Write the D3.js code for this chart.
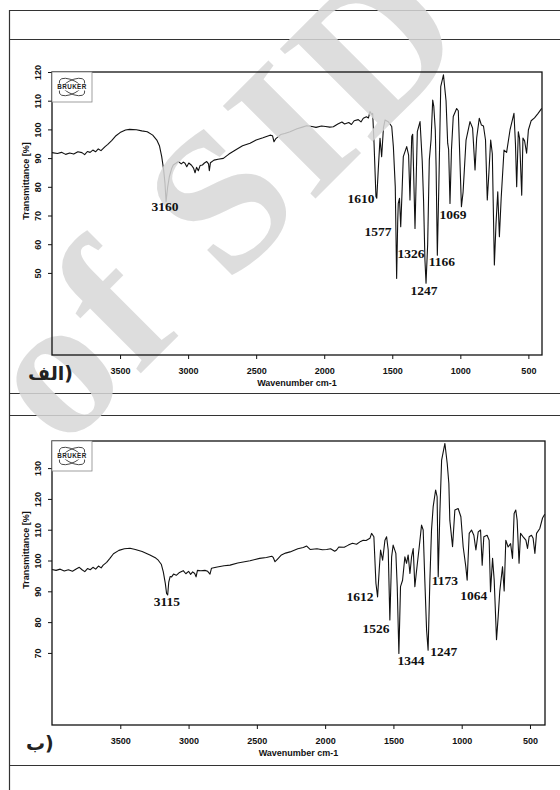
<!DOCTYPE html>
<html>
<head>
<meta charset="utf-8">
<script src="https://cdn.jsdelivr.net/npm/d3@7"></script>
<style>
  body { margin: 0; background: #fff; }
  .tick text { font-family: "Liberation Sans", Arial, sans-serif; font-weight: bold; font-size: 9px; fill: #111; }
  .tick line { stroke: #111; }
  .axis-title { font-family: "Liberation Sans", Arial, sans-serif; font-weight: bold; font-size: 9px; fill: #111; }
  .peak { font-family: "Liberation Serif", "Times New Roman", serif; font-weight: bold; font-size: 13.5px; fill: #111; }
  .tag { font-family: "DejaVu Sans", sans-serif; font-weight: bold; font-size: 19px; fill: #222; }
</style>
</head>
<body>
<div id="chart"></div>
<script>
// spectrum (a): wavenumber cm-1 / transmittance %
const wnA = [4000,3960,3930,3900,3870,3840,3810,3780,3760,3740,3720,3700,3680,3660,3640,3610,3590,3560,3530,3500,
  3460,3430,3380,3340,3300,3260,3230,3210,3194,3180,3170,3162,3150,3138,3120,3109,3090,3072,3050,3035,
  3023,3010,2995,2975,2960,2949,2938,2925,2912,2895,2880,2863,2850,2844,2836,2810,2780,2741,2700,2643,
  2600,2545,2500,2450,2398,2380,2369,2355,2320,2290,2251,2200,2160,2129,2090,2060,2020,1990,1960,1933,
  1900,1870,1850,1820,1800,1780,1750,1730,1713,1690,1675,1664,1650,1644,1634,1620,1614,1603,1590,1578,
  1565,1553,1530,1504,1492,1478,1468,1460,1456,1447,1438,1430,1419,1394,1380,1370,1357,1350,1333,1316,
  1296,1280,1270,1260,1252,1240,1228,1215,1203,1195,1184,1178,1169,1158,1144,1124,1105,1093,1086,1076,
  1065,1052,1027,1015,1005,992,980,958,929,910,892,880,861,845,830,815,802,790,777,765,
  750,738,725,713,700,679,660,635,606,595,586,574,565,549,540,528,513,500,480,455,430,402];
const tA = [91.9,91.6,92.0,91.3,91.8,91.4,92.2,91.9,91.2,92.3,92.0,92.8,92.2,93.2,92.6,94.0,94.8,96.2,97.8,98.9,
  99.8,100.0,99.9,99.5,99.2,98.0,96.3,94.2,90.5,86.0,81.3,74.8,80.0,83.5,86.5,87.6,88.2,88.8,88.0,88.6,
  88.2,87.0,88.3,87.5,86.5,84.9,86.8,85.6,87.4,87.6,88.3,88.8,88.0,85.6,88.4,89.3,89.6,89.9,91.4,93.1,
  94.3,95.2,96.3,97.1,98.0,97.8,95.7,96.8,98.2,98.6,99.2,100.2,100.8,101.3,101.0,100.7,101.2,101.0,100.8,100.9,
  101.9,102.6,101.9,102.4,101.7,103.0,103.4,102.6,103.9,104.4,104.0,106.2,105.2,105.6,95.2,76.6,76.0,85.9,96.9,90.5,
  100.5,103.3,102.7,101.0,94.0,80.0,48.1,68.0,74.2,76.0,66.1,76.0,90.5,94.0,91.0,75.4,97.5,98.3,65.5,99.2,
  102.7,89.0,75.0,54.5,46.4,60.0,89.3,96.5,110.2,108.0,99.8,87.0,56.2,80.0,114.9,119.0,110.0,95.2,93.0,74.2,
  93.0,104.5,107.3,106.5,92.0,73.1,78.0,96.3,102.7,100.5,85.9,97.0,103.9,101.5,101.2,96.3,75.4,85.0,96.3,91.5,
  52.8,67.0,78.3,62.6,76.0,92.8,92.0,99.8,105.6,95.0,80.0,99.2,97.0,77.1,97.0,96.0,91.7,99.8,103.0,104.0,105.5,107.3];

// spectrum (b)
const wnB = [4000,3970,3940,3910,3880,3850,3820,3800,3780,3760,3740,3720,3700,3680,3660,3640,3625,3600,3576,3550,
  3510,3470,3429,3390,3340,3283,3240,3222,3200,3185,3170,3161,3153,3145,3135,3124,3110,3090,3070,3039,
  3020,3000,2985,2970,2955,2945,2935,2910,2880,2860,2843,2832,2790,2740,2696,2640,2600,2550,2480,2430,
  2391,2380,2367,2350,2320,2290,2257,2200,2160,2135,2110,2060,2020,1989,1960,1930,1916,1900,1860,1830,
  1800,1770,1740,1721,1700,1672,1660,1643,1628,1616,1604,1594,1579,1562,1550,1538,1526,1513,1502,1482,
  1472,1460,1448,1433,1416,1404,1392,1379,1367,1355,1343,1330,1311,1294,1282,1270,1257,1246,1233,1221,
  1209,1191,1180,1172,1160,1147,1123,1106,1094,1087,1067,1050,1026,1006,989,970,960,945,928,911,
  896,879,862,850,838,814,799,789,774,762,745,733,721,701,689,677,660,642,628,616,
  604,594,580,569,550,530,518,506,489,477,464,452,428,408,392];
const tB = [97.1,96.8,97.2,96.6,97.0,96.5,97.3,97.8,97.0,96.4,97.4,97.0,97.8,97.2,98.2,97.6,98.5,99.4,100.7,102.2,
  103.3,103.8,104.0,103.6,102.9,101.8,100.8,100.1,98.8,96.3,92.5,89.3,88.8,93.0,94.8,94.7,95.6,95.2,96.0,96.7,
  95.7,96.5,95.5,96.3,95.8,94.7,96.8,96.7,96.8,96.5,95.6,97.5,97.9,98.3,98.5,99.2,99.5,99.9,100.7,101.0,
  101.4,101.0,99.6,100.4,101.8,102.4,102.8,103.8,104.2,104.7,103.6,103.8,103.5,103.6,103.8,103.0,103.4,104.4,104.3,105.0,
  105.6,105.3,106.2,106.6,106.5,107.2,108.8,107.7,92.6,88.2,96.9,103.4,100.1,106.6,107.7,103.4,80.7,101.2,105.0,102.3,
  91.5,69.8,91.5,93.6,101.2,99.1,101.8,95.8,101.2,103.9,91.5,96.9,104.4,111.5,109.9,93.6,77.4,70.9,93.6,109.9,
  117.4,122.9,120.7,94.7,115.3,132.6,138.0,131.5,125.0,113.1,104.5,116.4,116.9,114.2,104.4,98.0,93.6,108.8,109.9,108.2,
  103.4,109.3,109.9,98.5,107.7,108.2,106.6,89.9,100.7,93.6,74.3,81.7,90.1,98.0,90.1,106.6,104.4,105.5,100.7,115.3,
  116.4,113.1,99.1,108.8,107.7,106.6,103.9,107.7,108.2,107.2,102.3,108.8,110.4,113.8,115.0];

// peak annotations: text, wavenumber and transmittance where the label sits
const peaksA = ['3160','1610','1577','1326','1166','1247','1069'];
const peaksAWn = [3170,1730,1605,1362,1135,1267,1054];
const peaksAT = [72.6,75.4,63.9,56.2,53.4,43.3,69.8];

const peaksB = ['3115','1612','1526','1344','1247','1173','1064'];
const peaksBWn = [3158,1745,1628,1372,1131,1123,911];
const peaksBT = [86.2,87.8,77.4,67.0,69.9,93.0,88.1];

const xTicks = [3500,3000,2500,2000,1500,1000,500];
const yTicksA = [50,60,70,80,90,100,110,120];
const yTicksB = [70,80,90,100,110,120,130];

const W = 560, H = 790;

const svg = d3.select('#chart').append('svg')
  .attr('width', W)
  .attr('height', H)

// table lines
const rows = [10.5, 39.5, 393.5, 415.5, 765.5];
svg.selectAll('line.row').data(rows).enter().append('line')
  .attr('x1', 9).attr('x2', W).attr('y1', d => d).attr('y2', d => d)
  .attr('stroke', '#333').attr('stroke-width', 1.2)
svg.append('line').attr('x1', 9.5).attr('x2', 9.5).attr('y1', 10).attr('y2', H)
  .attr('stroke', '#333').attr('stroke-width', 1.2)

const panels = [
  {top: 72, bottom: 355, left: 52, right: 542, xDom: [4000, 400], yDom: [21.4, 120],
   wn: wnA, t: tA, yTicks: yTicksA, labels: peaksA, lWn: peaksAWn, lT: peaksAT, tag: 'الف)', tagX: 28, tagY: 380},
  {top: 441, bottom: 725, left: 52, right: 545, xDom: [4000, 390], yDom: [46.6, 138.8],
   wn: wnB, t: tB, yTicks: yTicksB, labels: peaksB, lWn: peaksBWn, lT: peaksBT, tag: 'ب)', tagX: 26, tagY: 750}
];

const layers = panels.map(p => {
  const x = d3.scaleLinear().domain(p.xDom).range([p.left, p.right]);
  const y = d3.scaleLinear().domain(p.yDom).range([p.bottom, p.top]);
  const g = svg.append('g');

  const line = d3.line().x(d => x(d[0])).y(d => y(d[1]));
  g.append('path')
    .datum(p.wn.map((w, i) => [w, p.t[i]]))
    .attr('d', line)
    .attr('fill', 'none')
    .attr('stroke', '#111')
    .attr('stroke-width', 1.1)
    .attr('stroke-linejoin', 'round')

  return {p, x, y};
});

// watermark sits over the traces, kept inside the page
svg.append('text')
  .attr('transform', 'translate(62,452) rotate(-45)')
  .attr('font-family', '"Liberation Serif", serif')
  .attr('font-weight', 'bold')
  .attr('font-size', 200)
  .attr('letter-spacing', 6)
  .attr('fill', '#d8d8d8')
  .attr('opacity', 0.85)
  .text('of SID')

layers.forEach(({p, x, y}) => {
  const g = svg.append('g');

  g.append('rect')
    .attr('x', p.left).attr('y', p.top)
    .attr('width', p.right - p.left).attr('height', p.bottom - p.top)
    .attr('fill', 'none').attr('stroke', '#111').attr('stroke-width', 1.3)

  let xAxis = g.append('g')
    .attr('transform', `translate(0,${p.bottom})`)
    .call(d3.axisBottom(x).tickValues(xTicks).tickSize(4).tickPadding(9).tickFormat(d3.format('d')))
  xAxis.select('.domain').remove()

  let yAxis = g.append('g')
    .attr('transform', `translate(${p.left},0)`)
    .call(d3.axisLeft(y).tickValues(p.yTicks).tickSize(4).tickFormat(d3.format('d')))
  yAxis.select('.domain').remove()
  yAxis.selectAll('.tick text')
    .attr('transform', 'rotate(-90)')
    .attr('x', 0).attr('y', -11).attr('dy', 0)
    .style('text-anchor', 'middle')

  g.append('text')
    .attr('class', 'axis-title')
    .attr('x', (p.left + p.right) / 2)
    .attr('y', p.bottom + 31)
    .attr('text-anchor', 'middle')
    .text('Wavenumber cm-1')

  g.append('text')
    .attr('class', 'axis-title')
    .attr('transform', `translate(28.5,${p.top + 109}) rotate(-90)`)
    .attr('text-anchor', 'middle')
    .text('Transmittance [%]')

  // bruker logo box
  const lg = g.append('g').attr('transform', `translate(${p.left},${p.top})`);
  lg.append('rect').attr('width', 40).attr('height', 30)
    .attr('fill', '#fff').attr('stroke', '#888').attr('stroke-width', 0.8)
  ;[-28, 28].forEach(a => {
    lg.append('ellipse')
      .attr('transform', `translate(20,15) rotate(${a})`)
      .attr('rx', 14).attr('ry', 6.5)
      .attr('fill', 'none').attr('stroke', '#333').attr('stroke-width', 0.8)
  })
  lg.append('rect').attr('x', 3).attr('y', 11.5).attr('width', 34).attr('height', 7).attr('fill', '#fff')
  lg.append('text')
    .attr('x', 20).attr('y', 17.3)
    .attr('text-anchor', 'middle')
    .attr('font-family', '"Liberation Sans", Arial, sans-serif')
    .attr('font-weight', 'bold')
    .attr('font-size', 6.3)
    .attr('letter-spacing', 0.4)
    .attr('fill', '#222')
    .text('BRUKER')

  g.selectAll('text.peak').data(p.labels).enter().append('text')
    .attr('class', 'peak')
    .attr('x', (d, i) => x(p.lWn[i]))
    .attr('y', (d, i) => y(p.lT[i]))
    .attr('text-anchor', 'middle')
    .attr('dominant-baseline', 'middle')
    .text(d => d)

  g.append('text')
    .attr('class', 'tag')
    .attr('x', p.tagX)
    .attr('y', p.tagY)
    .text(p.tag)
});
</script>
</body>
</html>
